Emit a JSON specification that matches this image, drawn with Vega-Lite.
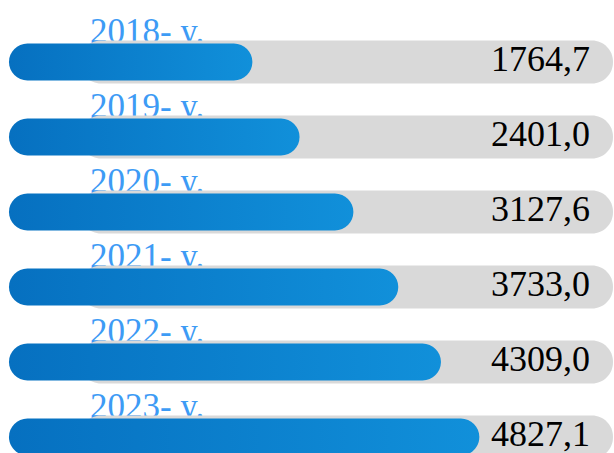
{
  "$schema": "https://vega.github.io/schema/vega-lite/v6.json",
  "width": 614,
  "height": 453,
  "autosize": {"type": "none"},
  "padding": 0,
  "background": "white",
  "config": {"view": {"stroke": null}},
  "data": {
    "values": [
      {"year": "2018- y.", "value": 1764.7, "label": "1764,7"},
      {"year": "2019- y.", "value": 2401.0, "label": "2401,0"},
      {"year": "2020- y.", "value": 3127.6, "label": "3127,6"},
      {"year": "2021- y.", "value": 3733.0, "label": "3733,0"},
      {"year": "2022- y.", "value": 4309.0, "label": "4309,0"},
      {"year": "2023- y.", "value": 4827.1, "label": "4827,1"}
    ]
  },
  "encoding": {
    "y": {
      "field": "year",
      "type": "nominal",
      "sort": null,
      "axis": null,
      "scale": {"range": [24.5, 474.5], "paddingInner": 0, "paddingOuter": 0}
    }
  },
  "layer": [
    {
      "mark": {"type": "text", "align": "left", "baseline": "alphabetic", "dy": -19, "fontSize": 35, "font": "Liberation Serif", "color": "#3d9bf5"},
      "encoding": {
        "x": {"datum": -427, "type": "quantitative", "axis": null, "scale": {"domain": [-1641, 6644], "range": [0, 614]}},
        "text": {"field": "year"}
      }
    },
    {
      "mark": {"type": "bar", "size": 43, "cornerRadius": 21, "color": "#d9d9d9", "clip": true},
      "encoding": {
        "x": {"datum": -562, "type": "quantitative", "axis": null, "scale": {"domain": [-1641, 6644], "range": [0, 614]}},
        "x2": {"datum": 6630}
      }
    },
    {
      "mark": {
        "type": "bar", "size": 37, "cornerRadius": 18.5, "clip": true,
        "color": {"gradient": "linear", "x1": 0, "y1": 0, "x2": 1, "y2": 0,
          "stops": [{"offset": 0, "color": "#0670c0"}, {"offset": 1, "color": "#1190da"}]}
      },
      "encoding": {
        "x": {"field": "value", "type": "quantitative", "axis": null, "scale": {"domain": [-1641, 6644], "range": [0, 614]}},
        "x2": {"datum": -1520}
      }
    },
    {
      "mark": {"type": "text", "align": "right", "baseline": "alphabetic", "dy": 9, "fontSize": 36, "font": "Liberation Serif", "color": "#000000"},
      "encoding": {
        "x": {"datum": 6320, "type": "quantitative", "axis": null, "scale": {"domain": [-1641, 6644], "range": [0, 614]}},
        "text": {"field": "label"}
      }
    }
  ]
}
